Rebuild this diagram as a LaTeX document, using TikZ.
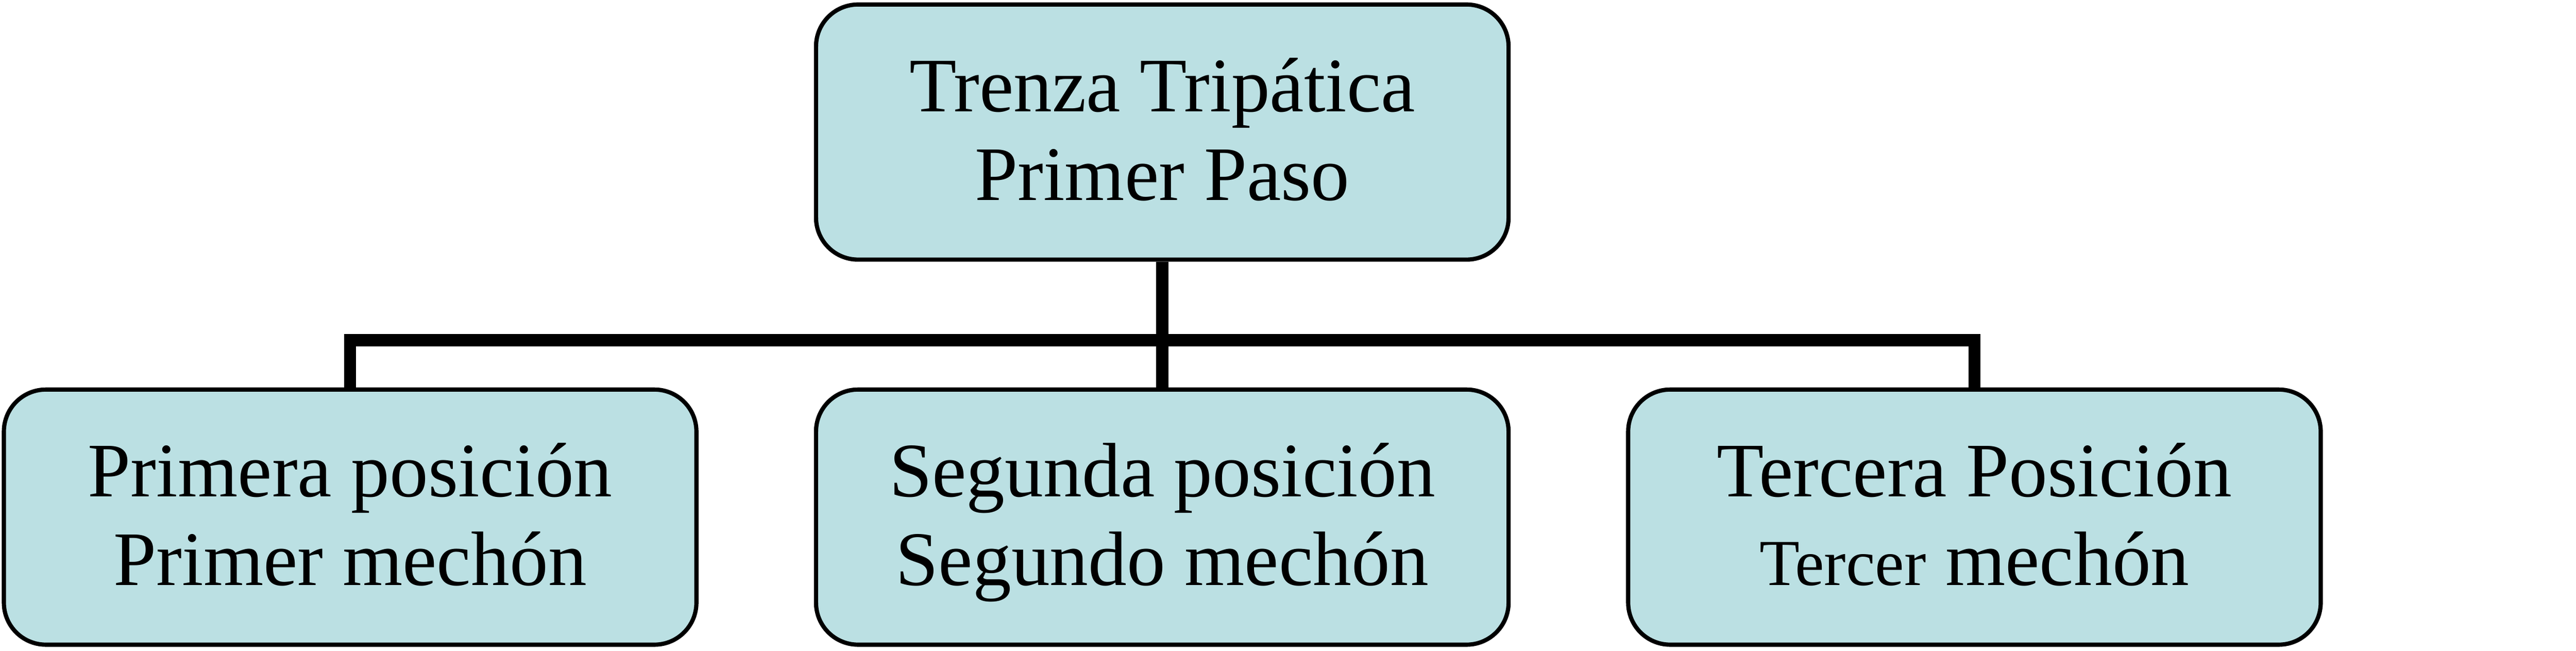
\documentclass[tikz,border=0pt]{standalone}
\usepackage{fontspec}
\setmainfont{Liberation Serif}
\definecolor{celeste}{HTML}{BBE0E3}
\newcommand{\arriba}{\rule{0pt}{20.1pt}}

\begin{document}
\begin{tikzpicture}[level distance = 3.668cm, sibling distance = 7.74cm,
    caja/.style = {shape = rectangle, rounded corners = 0.4cm, draw, line width = 1.14pt,
        fill = celeste, minimum width = 6.6cm, minimum height = 2.43cm, align = center,
        font = \fontsize{20.9}{24}\selectfont},
    edge from parent/.style = {draw, line width = 3.3pt},
    edge from parent path = {(\tikzparentnode.south) -- +(0,-0.747) -| (\tikzchildnode.north)}]
    \useasboundingbox (0,0) rectangle (24.55,6.2);
    \node [caja] (paso) at (11.077,4.942) {\arriba Trenza Tripática\\Primer Paso\strut}
        child{ node[caja] (primera) {\arriba Primera posición\\Primer mechón\strut} }
        child{ node[caja] (segunda) {\arriba Segunda posición\\Segundo mechón\strut} }
        child{ node[caja] (tercera) {\arriba Tercera Posición\\{\fontsize{17.8}{24}\selectfont Tercer} mechón\strut} };
\end{tikzpicture}
\end{document}
